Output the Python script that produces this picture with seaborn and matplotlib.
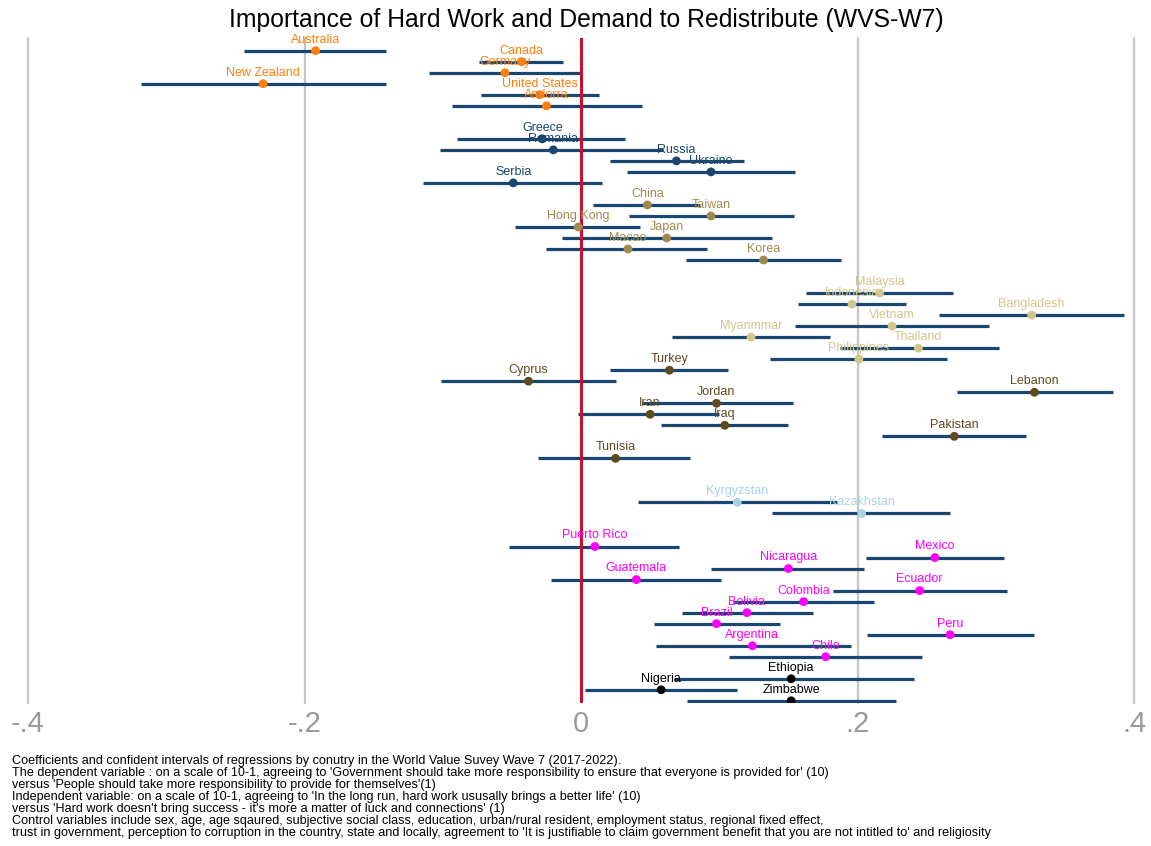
import pandas as pd
import matplotlib
matplotlib.use("Agg")
import matplotlib.pyplot as plt
import seaborn as sns

# === 1. Data ===
countries = ["Australia", "Canada", "Germany", "New Zealand", "United States", "Andorra",
             "Greece", "Romania", "Russia", "Ukraine", "Serbia",
             "China", "Taiwan", "Hong Kong", "Japan", "Macao", "Korea",
             "Malaysia", "Indonesia", "Bangladesh", "Vietnam", "Myanmmar", "Thailand", "Philippines",
             "Turkey", "Cyprus", "Lebanon", "Jordan", "Iran", "Iraq", "Pakistan", "Tunisia",
             "Kyrgyzstan", "Kazakhstan",
             "Puerto Rico", "Mexico", "Nicaragua", "Guatemala", "Ecuador", "Colombia", "Bolivia",
             "Brazil", "Peru", "Argentina", "Chile",
             "Ethiopia", "Nigeria", "Zimbabwe"]
rows = [0, 1, 2, 3, 4, 5,
        8, 9, 10, 11, 12,
        14, 15, 16, 17, 18, 19,
        22, 23, 24, 25, 26, 27, 28,
        29, 30, 31, 32, 33, 34, 35, 37,
        41, 42,
        45, 46, 47, 48, 49, 50, 51, 52, 53, 54, 55,
        57, 58, 59]
coef = [-0.192, -0.043, -0.055, -0.230, -0.030, -0.025,
        -0.028, -0.020, 0.069, 0.094, -0.049,
        0.048, 0.094, -0.002, 0.062, 0.034, 0.132,
        0.216, 0.196, 0.326, 0.225, 0.123, 0.244, 0.201,
        0.064, -0.038, 0.328, 0.098, 0.050, 0.104, 0.270, 0.025,
        0.113, 0.203,
        0.010, 0.256, 0.150, 0.040, 0.245, 0.161, 0.120, 0.098, 0.267, 0.124, 0.177,
        0.152, 0.058, 0.152]
ci_low = [-0.244, -0.074, -0.110, -0.318, -0.072, -0.093,
          -0.090, -0.102, 0.021, 0.033, -0.114,
          0.009, 0.035, -0.048, -0.014, -0.025, 0.076,
          0.163, 0.157, 0.259, 0.155, 0.066, 0.187, 0.137,
          0.021, -0.101, 0.272, 0.044, -0.002, 0.058, 0.218, -0.031,
          0.041, 0.138,
          -0.052, 0.206, 0.094, -0.022, 0.182, 0.110, 0.073, 0.053, 0.207, 0.054, 0.107,
          0.067, 0.003, 0.077]
ci_high = [-0.141, -0.013, 0.000, -0.141, 0.013, 0.044,
           0.032, 0.059, 0.118, 0.155, 0.015,
           0.086, 0.154, 0.043, 0.138, 0.091, 0.188,
           0.269, 0.235, 0.393, 0.295, 0.180, 0.302, 0.265,
           0.106, 0.025, 0.385, 0.153, 0.100, 0.150, 0.322, 0.079,
           0.185, 0.267,
           0.071, 0.306, 0.205, 0.101, 0.308, 0.212, 0.168, 0.144, 0.328, 0.195, 0.247,
           0.241, 0.113, 0.228]
region = (["West"] * 6 + ["Orthodox"] * 5 + ["East Asia"] * 6 + ["South/SE Asia"] * 7
          + ["Middle East"] * 8 + ["Central Asia"] * 2 + ["Latin America"] * 11 + ["Africa"] * 3)

xticks = [-0.4, -0.2, 0, 0.2, 0.4]
xtick_labels = ["-.4", "-.2", "0", ".2", ".4"]

title = "Importance of Hard Work and Demand to Redistribute (WVS-W7)"
notes = [
    "Coefficients and confident intervals of regressions by conutry in the World Value Suvey Wave 7 (2017-2022).",
    "The dependent variable : on a scale of 10-1, agreeing to 'Government should take more responsibility to ensure that everyone is provided for' (10)",
    "versus 'People should take more responsibility to provide for themselves'(1)",
    "Independent variable: on a scale of 10-1, agreeing to 'In the long run, hard work ususally brings a better life' (10)",
    "versus 'Hard work doesn't bring success - it's more a matter of luck and connections' (1)",
    "Control variables include sex, age, age sqaured, subjective social class, education, urban/rural resident, employment status, regional fixed effect,",
    "trust in government, perception to corruption in the country, state and locally, agreement to 'It is justifiable to claim government benefit that you are not intitled to' and religiosity",
]

palette = {"West": "#ff7f0e", "Orthodox": "#1a476f", "East Asia": "#a08a4e",
           "South/SE Asia": "#d3c68a", "Middle East": "#5f4a1e", "Central Asia": "#a9d2e4",
           "Latin America": "#ff00ff", "Africa": "#000000"}

df = pd.DataFrame({"country": countries, "row": rows, "coef": coef,
                   "lo": ci_low, "hi": ci_high, "region": region})

# === 2. Plot ===
sns.set_theme(style="white")
plt.rcParams["font.family"] = ["Liberation Sans", "DejaVu Sans"]

fig = plt.figure(figsize=(11.51, 8.46), dpi=100)
ax = fig.add_axes([28 / 1151, 143 / 846, (1134 - 28) / 1151, (808 - 143) / 846])

for xv in [-0.4, -0.2, 0.2, 0.4]:
    ax.axvline(xv, color="#c6c6c6", lw=1.6, zorder=1, clip_on=False)

# confidence intervals
ax.hlines(df["row"], df["lo"], df["hi"], color="#1a476f", lw=2.3, zorder=2)
ax.axvline(0, color="#c8102e", lw=2.2, zorder=3)

sns.scatterplot(data=df, x="coef", y="row", hue="region", palette=palette,
                s=40, edgecolor=None, linewidth=0, legend=False, zorder=4, ax=ax)

for _, r in df.iterrows():
    ax.annotate(r["country"], (r["coef"], r["row"]), xytext=(0, 8), textcoords="offset points",
                ha="center", va="center", fontsize=9, color=palette[r["region"]], zorder=5)

ax.set_xlim(-0.4, 0.4)
ax.set_ylim(59.2, -1.15)
ax.set_yticks([])
ax.set_xticks(xticks)
ax.set_xticklabels(xtick_labels, fontsize=21, color="#9a9a9a")
ax.tick_params(axis="x", length=0, pad=5)
ax.set_xlabel("")
ax.set_ylabel("")
sns.despine(ax=ax, left=True, bottom=True)

fig.text(586 / 1151, 1 - 20 / 846, title, ha="center", va="center", fontsize=17.8, color="black")

for i, line in enumerate(notes):
    fig.text(12 / 1151, 1 - (761 + 12 * i) / 846, line, ha="left", va="center", fontsize=9.1,
             color="black")

fig.savefig("out.png", dpi=100)
